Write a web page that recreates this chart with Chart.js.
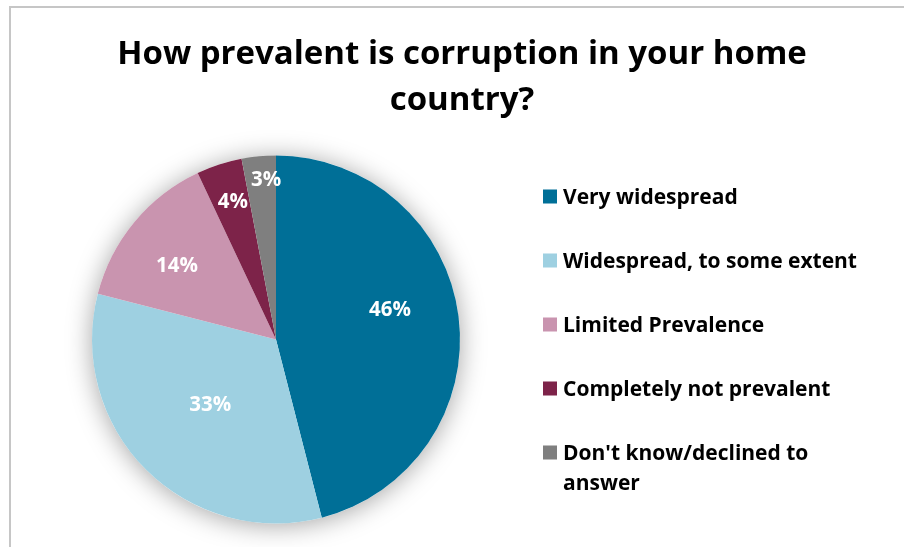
<!DOCTYPE html>
<html>
<head>
<meta charset="utf-8">
<script src="https://cdn.jsdelivr.net/npm/chart.js@4.4.1/dist/chart.umd.min.js"></script>
<style>
  html, body { margin: 0; padding: 0; background: #fff; overflow: hidden; }
  #wrap { position: relative; width: 904px; height: 547px; }
  #frame { position: absolute; left: 9px; top: 6px; width: 1000px; height: 1000px;
           border-top: 2px solid #c6c6c6; border-left: 2px solid #c6c6c6; pointer-events: none; }
  canvas { position: absolute; left: 0; top: 0; }
</style>
</head>
<body>
<div id="wrap">
  <canvas id="chart" width="904" height="547"></canvas>
  <div id="frame"></div>
</div>
<script>
// Survey answers and their shares (percent)
const categories = [
  'Very widespread',
  'Widespread, to some extent',
  'Limited Prevalence',
  'Completely not prevalent',
  "Don't know/declined to answer"
];
const shares = [46, 33, 14, 4, 3];
const sliceColors = ['#006f97', '#9ed0e1', '#c994af', '#7d2349', '#7f7f7f'];
const titleLines = ['How prevalent is corruption in your home', 'country?'];

const FONT = '"Open Sans", Lato, sans-serif';

// Soft shadow painted under the pie before the slices
const pieShadow = {
  id: 'pieShadow',
  beforeDatasetsDraw(chart, args, opts) {
    const arc = chart.getDatasetMeta(0).data[0];
    if (!arc) return;
    const ctx = chart.ctx;
    ctx.save();
    ctx.shadowColor = opts.color;
    ctx.shadowBlur = opts.blur;
    ctx.shadowOffsetX = opts.offsetX;
    ctx.shadowOffsetY = opts.offsetY;
    ctx.fillStyle = '#ffffff';
    ctx.beginPath();
    ctx.arc(arc.x, arc.y, arc.outerRadius, 0, Math.PI * 2);
    ctx.fill();
    ctx.restore();
  }
};

// Percentage labels inside the slices
const sliceLabels = {
  id: 'sliceLabels',
  afterDatasetsDraw(chart, args, opts) {
    const ctx = chart.ctx;
    const meta = chart.getDatasetMeta(0);
    const values = chart.data.datasets[0].data;
    ctx.save();
    ctx.fillStyle = opts.color;
    ctx.font = opts.font;
    ctx.textAlign = 'center';
    ctx.textBaseline = 'middle';
    meta.data.forEach((arc, i) => {
      const p = arc.getProps(['x', 'y', 'startAngle', 'endAngle', 'outerRadius'], true);
      const mid = (p.startAngle + p.endAngle) / 2 + (opts.nudge[i] || 0) * Math.PI / 180;
      const r = p.outerRadius * (opts.radial[i] || 0.6);
      ctx.fillText(values[i] + '%', p.x + Math.cos(mid) * r, p.y + Math.sin(mid) * r);
    });
    ctx.restore();
  }
};

// Legend laid out as its own box on the right side of the chart
const sideLegend = {
  id: 'sideLegend',
  start(chart, args, opts) {
    const box = {
      position: 'right',
      weight: 900,
      fullSize: false,
      options: {},
      top: 0, left: 0, right: 0, bottom: 0, width: 0, height: 0,
      isHorizontal() { return false; },
      update(maxWidth, maxHeight) { this.width = opts.width; this.height = maxHeight; },
      draw() {
        const ctx = chart.ctx;
        const colors = chart.data.datasets[0].backgroundColor;
        ctx.save();
        ctx.font = opts.font;
        ctx.textAlign = 'left';
        ctx.textBaseline = 'alphabetic';
        // wrap each label to the text width
        const items = chart.data.labels.map((label, i) => {
          const words = label.split(' ');
          const lines = [];
          let cur = '';
          words.forEach(w => {
            const test = cur ? cur + ' ' + w : w;
            if (cur && ctx.measureText(test).width > opts.textWidth) { lines.push(cur); cur = w; }
            else cur = test;
          });
          if (cur) lines.push(cur);
          return { lines, color: colors[i] };
        });
        const total = items.reduce((s, it) => s + it.lines.length * opts.lineHeight, 0) + opts.gap * (items.length - 1);
        let y = (this.top + this.bottom) / 2 - total / 2;
        const mx = this.left + opts.markerOffset;
        const tx = mx + opts.markerSize + opts.textGap;
        items.forEach(it => {
          const c = y + opts.lineHeight / 2;
          ctx.fillStyle = it.color;
          ctx.fillRect(mx, c - opts.markerSize / 2, opts.markerSize, opts.markerSize);
          ctx.fillStyle = opts.textColor;
          it.lines.forEach((ln, k) => {
            ctx.fillText(ln, tx, c + k * opts.lineHeight + opts.capHeight / 2);
          });
          y += it.lines.length * opts.lineHeight + opts.gap;
        });
        ctx.restore();
      }
    };
    Chart.layouts.addBox(chart, box);
  }
};

new Chart(document.getElementById('chart'), {
  type: 'pie',
  data: {
    labels: categories,
    datasets: [{
      data: shares,
      backgroundColor: sliceColors,
      borderWidth: 0
    }]
  },
  options: {
    responsive: false,
    animation: false,
    radius: 184,
    layout: { padding: { left: 20, top: 0, right: 0, bottom: 0 } },
    plugins: {
      legend: { display: false },
      tooltip: { enabled: false },
      title: {
        display: true,
        text: titleLines,
        color: '#000000',
        font: { family: FONT, size: 33, weight: 'bold', lineHeight: 46 / 33 },
        padding: { top: 32, bottom: 8 }
      },
      pieShadow: { color: 'rgba(0,0,0,0.36)', blur: 26, offsetX: 0, offsetY: 2 },
      sliceLabels: {
        color: '#ffffff',
        font: 'bold 20.5px ' + FONT,
        radial: [0.64, 0.505, 0.67, 0.78, 0.865],
        nudge: [-7.3, 0, -3, 0.5, 1.8]
      },
      sideLegend: {
        width: 372,
        font: 'bold 21px ' + FONT,
        textColor: '#000000',
        textWidth: 305,
        lineHeight: 30,
        gap: 34,
        capHeight: 15,
        markerOffset: 11,
        markerSize: 14,
        textGap: 6
      }
    }
  },
  plugins: [pieShadow, sliceLabels, sideLegend]
});
</script>
</body>
</html>
